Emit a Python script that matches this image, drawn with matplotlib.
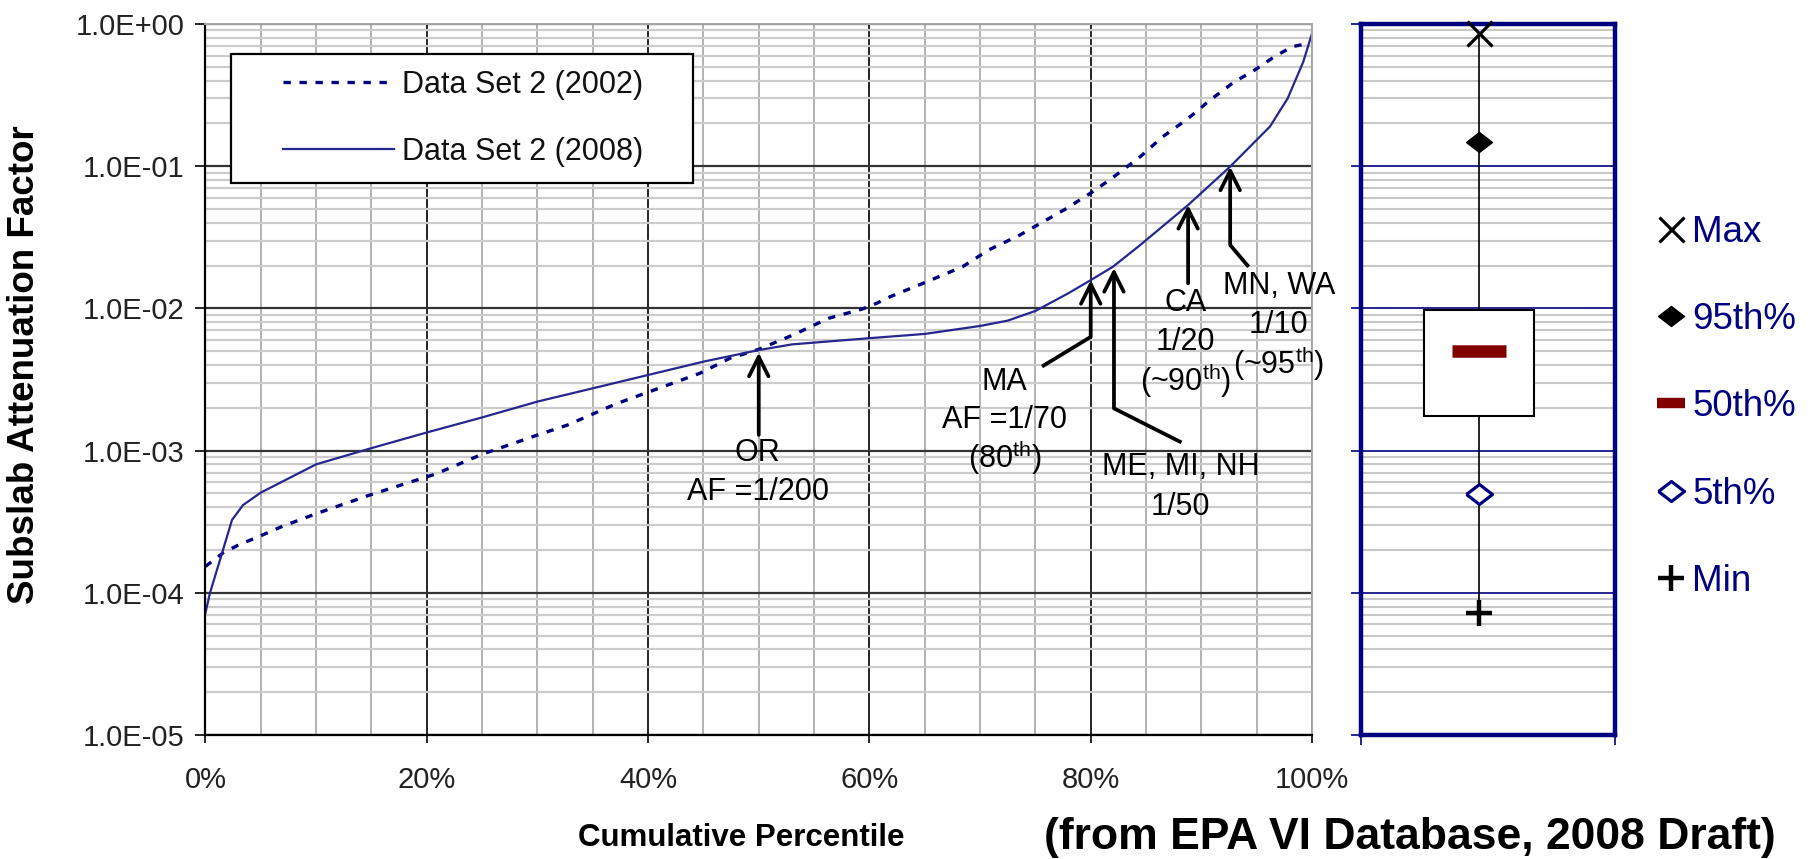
import matplotlib
matplotlib.use("Agg")
import matplotlib.pyplot as plt
from matplotlib.legend_handler import HandlerLine2D
from matplotlib.lines import Line2D
from matplotlib.ticker import FixedLocator, FuncFormatter, LogLocator, MultipleLocator, NullFormatter

plt.rcParams["font.family"] = ["Liberation Sans", "DejaVu Sans"]
plt.rcParams["mathtext.fontset"] = "custom"
plt.rcParams["mathtext.rm"] = "Liberation Sans"
plt.rcParams["mathtext.it"] = "Liberation Sans:italic"
plt.rcParams["mathtext.bf"] = "Liberation Sans:bold"

# cumulative percentile (%) vs subslab attenuation factor
pct_2002 = [0, 1.6, 3.0, 4.8, 6.9, 10.1, 14.9, 17.7, 20.8, 25, 29.8, 32.7, 37.1, 40.1,
            44.7, 47.4, 50, 53.1, 56.3, 59.3, 60.7, 61.9, 65.2, 68.4, 70.8, 73.6, 77.7,
            80.1, 81.7, 83.1, 84.5, 86.5, 88, 89.4, 90.6, 93, 94.6, 96.6, 98.2, 99.3]
af_2002 = [1.53e-4, 1.91e-4, 2.17e-4, 2.48e-4, 2.92e-4, 3.62e-4, 4.88e-4, 5.73e-4, 6.84e-4,
           9.42e-4, 1.27e-3, 1.51e-3, 2.13e-3, 2.59e-3, 3.50e-3, 4.46e-3, 5.15e-3, 6.50e-3,
           8.51e-3, 9.86e-3, 1.09e-2, 1.21e-2, 1.54e-2, 1.96e-2, 2.58e-2, 3.28e-2, 4.98e-2,
           6.55e-2, 8.0e-2, 9.66e-2, 0.117, 0.161, 0.195, 0.236, 0.284, 0.393, 0.462,
           0.589, 0.692, 0.72]

pct_2008 = [0, 0.4, 1.4, 2.4, 3.4, 5, 10, 15, 20, 25, 30, 35, 40, 45, 50, 53, 60, 65, 70,
            72.5, 75, 78, 80, 82, 84.5, 88.8, 92.6, 96.2, 97.8, 99.2, 100]
af_2008 = [7.21e-5, 9.9e-5, 1.79e-4, 3.25e-4, 4.14e-4, 5.06e-4, 8.0e-4, 1.04e-3, 1.34e-3,
           1.71e-3, 2.21e-3, 2.74e-3, 3.40e-3, 4.22e-3, 5.09e-3, 5.58e-3, 6.17e-3, 6.61e-3,
           7.52e-3, 8.20e-3, 9.59e-3, 1.28e-2, 1.58e-2, 1.96e-2, 2.8e-2, 5.33e-2, 9.93e-2,
           0.19, 0.30, 0.54, 0.86]

# summary statistics of the 2008 data set
stat_labels = ["Max", "95th%", "50th%", "5th%", "Min"]
af_max = 0.865
af_p95 = 0.148
af_q75 = 0.0098
af_median = 0.0050
af_q25 = 0.00176
af_p5 = 4.95e-4
af_min = 7.2e-5

# state call-outs: text lines, arrow path (last point is the tip), text anchor
callouts = [
    {"lines": ["OR", "AF =1/200"], "path": [(50.0, 1.29e-3), (50.0, 4.88e-3)],
     "text_x": 49.9, "text_y": [9.6e-4, 5.1e-4]},
    {"lines": ["MA", "AF =1/70", r"(80$^{\rm th}$)"],
     "path": [(75.6, 3.9e-3), (80.0, 6.3e-3), (80.0, 1.58e-2)],
     "text_x": 72.2, "text_y": [3.05e-3, 1.64e-3, 8.9e-4]},
    {"lines": ["ME, MI, NH", "1/50"],
     "path": [(88.2, 1.14e-3), (82.1, 1.98e-3), (82.1, 1.92e-2)],
     "text_x": 88.1, "text_y": [7.7e-4, 4.0e-4]},
    {"lines": ["CA", "1/20", r"(~90$^{\rm th}$)"],
     "path": [(88.8, 1.5e-2), (88.8, 5.33e-2)],
     "text_x": 88.55, "text_y": [1.09e-2, 5.8e-3, 3.1e-3]},
    {"lines": ["MN, WA", "1/10", r"(~95$^{\rm th}$)"],
     "path": [(94.27, 1.96e-2), (92.6, 2.79e-2), (92.6, 9.93e-2)],
     "text_x": 97.0, "text_y": [1.44e-2, 7.6e-3, 4.1e-3]},
]

NAVY = "#000080"
LINE_NAVY = "#26268f"
diamond = [(-1, 0), (0, 0.77), (1, 0), (0, -0.77), (-1, 0)]

fig = plt.figure(figsize=(18.18, 8.59), dpi=100)
ax = fig.add_axes([0.1130, 0.1444, 0.6087, 0.8277])
ax_box = fig.add_axes([0.7486, 0.1444, 0.1397, 0.8277])

# ---- main cumulative plot ----
ax.set_yscale("log")
ax.set_xlim(0, 100)
ax.set_ylim(1e-5, 1)
ax.set_axisbelow(True)
ax.xaxis.set_major_locator(MultipleLocator(20))
ax.xaxis.set_minor_locator(MultipleLocator(5))
ax.xaxis.set_major_formatter(FuncFormatter(lambda v, p: f"{v:.0f}%"))
ax.yaxis.set_major_locator(FixedLocator([1e-5, 1e-4, 1e-3, 1e-2, 1e-1, 1]))
ax.yaxis.set_minor_locator(LogLocator(base=10, subs=range(2, 10)))
ax.yaxis.set_major_formatter(FuncFormatter(lambda v, p: f"{v:.1E}"))
ax.yaxis.set_minor_formatter(NullFormatter())

ax.grid(which="minor", axis="x", color="#a6a6a6", lw=1.2)
ax.grid(which="minor", axis="y", color="#cccccc", lw=1.6)
ax.grid(which="major", axis="x", color="black", lw=1.2)
ax.grid(which="major", axis="y", color="#333333", lw=1.6)
ax.tick_params(which="minor", length=0)
ax.tick_params(axis="y", which="major", direction="out", length=7, width=1.2, pad=8,
               labelsize=21, labelcolor="#222222")
ax.tick_params(axis="x", which="major", direction="out", length=6, width=1.2, pad=16,
               labelsize=21, labelcolor="#222222")
for side in ["left", "bottom"]:
    ax.spines[side].set_color("black")
    ax.spines[side].set_linewidth(1.6)
for side in ["top", "right"]:
    ax.spines[side].set_color("#a6a6a6")
    ax.spines[side].set_linewidth(1.4)

ax.plot(pct_2002, af_2002, color=NAVY, lw=2.4, dashes=(2.2, 2.6), label="Data Set 2 (2002)")
ax.plot(pct_2008, af_2008, color=LINE_NAVY, lw=1.6, label="Data Set 2 (2008)")

leg = ax.legend(loc="upper left", bbox_to_anchor=(0.0231, 0.7736, 0.4174, 0.1844),
                mode="expand", fontsize=22, frameon=True, fancybox=False,
                edgecolor="black", framealpha=1, borderpad=0.53, borderaxespad=0,
                handlelength=4.8, handletextpad=0.26, labelspacing=1.21,
                handler_map={Line2D: HandlerLine2D(xpad=1.17)})
leg.get_frame().set_linewidth(1.6)
for t in leg.get_texts():
    t.set_color("#111111")

for c in callouts:
    xs = [p[0] for p in c["path"]]
    ys = [p[1] for p in c["path"]]
    if len(xs) > 2:
        ax.plot(xs[:-1], ys[:-1], color="black", lw=2.7, solid_capstyle="butt",
                solid_joinstyle="miter", zorder=5)
    ax.annotate("", xy=c["path"][-1], xytext=c["path"][-2],
                arrowprops=dict(arrowstyle="->,head_length=0.7,head_width=0.35",
                                lw=2.7, color="black", mutation_scale=20,
                                shrinkA=0, shrinkB=0), zorder=5)
    for line, ty in zip(c["lines"], c["text_y"]):
        ax.text(c["text_x"], ty, line, ha="center", va="center", fontsize=22,
                color="black", zorder=6)

# ---- summary box panel ----
ax_box.set_yscale("log")
ax_box.set_xlim(0, 1)
ax_box.set_ylim(1e-5, 1)
ax_box.set_axisbelow(True)
ax_box.yaxis.set_major_locator(FixedLocator([1e-5, 1e-4, 1e-3, 1e-2, 1e-1, 1]))
ax_box.yaxis.set_minor_locator(LogLocator(base=10, subs=range(2, 10)))
ax_box.yaxis.set_major_formatter(NullFormatter())
ax_box.yaxis.set_minor_formatter(NullFormatter())
ax_box.xaxis.set_major_locator(FixedLocator([0, 1]))
ax_box.xaxis.set_major_formatter(NullFormatter())
ax_box.grid(which="minor", axis="y", color="#c8c8c8", lw=1.5)
ax_box.grid(which="major", axis="y", color=NAVY, lw=1.2)
ax_box.tick_params(which="minor", length=0)
ax_box.tick_params(which="major", direction="out", length=7, width=1.2, color=NAVY)
for s in ax_box.spines.values():
    s.set_color(NAVY)
    s.set_linewidth(3.2)

c_x = 0.465
half_w = 0.215
med_half = 0.107
ax_box.plot([c_x, c_x], [af_min, af_max], color="black", lw=1.2, zorder=2)
ax_box.bar(c_x, af_q75 - af_q25, bottom=af_q25, width=2 * half_w, color="white",
           edgecolor="black", lw=1.5, zorder=3)
ax_box.hlines(af_median, c_x - med_half, c_x + med_half, color="#800000", lw=9, zorder=4)
ax_box.plot(c_x, af_max, marker="x", ms=18, mew=2.3, color="black", clip_on=False, zorder=5)
ax_box.plot(c_x, af_p95, marker=diamond, ms=18.7, color="black", zorder=5)
ax_box.plot(c_x, af_p5, marker=diamond, ms=18.7, mfc="white", mec=NAVY, mew=2.3, zorder=5)
ax_box.plot(c_x, af_min, marker="+", ms=19, mew=3.2, color="black", zorder=5)

stat_handles = [
    Line2D([], [], ls="none", marker="x", ms=18, mew=2.3, color="black"),
    Line2D([], [], ls="none", marker=diamond, ms=18.7, color="black"),
    Line2D([], [], color="#800000", lw=7.5, solid_capstyle="butt"),
    Line2D([], [], ls="none", marker=diamond, ms=18.7, mfc="white", mec=NAVY, mew=2.3),
    Line2D([], [], ls="none", marker="+", ms=19, mew=3.2, color="black"),
]
ax_box.legend(stat_handles, stat_labels, loc="upper left", bbox_to_anchor=(0.9114, 0.750),
              bbox_transform=fig.transFigure, frameon=False, fontsize=26.5, numpoints=1,
              handlelength=0.76, handletextpad=0.2, labelspacing=1.42, borderpad=0,
              borderaxespad=0, labelcolor=NAVY)

fig.text(0.01375, 0.576, "Subslab Attenuation Factor", rotation=90, ha="center",
         va="center", fontsize=26.5, fontweight="bold")
fig.text(0.408, 0.0240, "Cumulative Percentile", ha="center", va="center",
         fontsize=22.5, fontweight="bold")
fig.text(0.7756, 0.0256, "(from EPA VI Database, 2008 Draft)", ha="center", va="center",
         fontsize=32, fontweight="bold")

fig.savefig("out.png", dpi=100)
